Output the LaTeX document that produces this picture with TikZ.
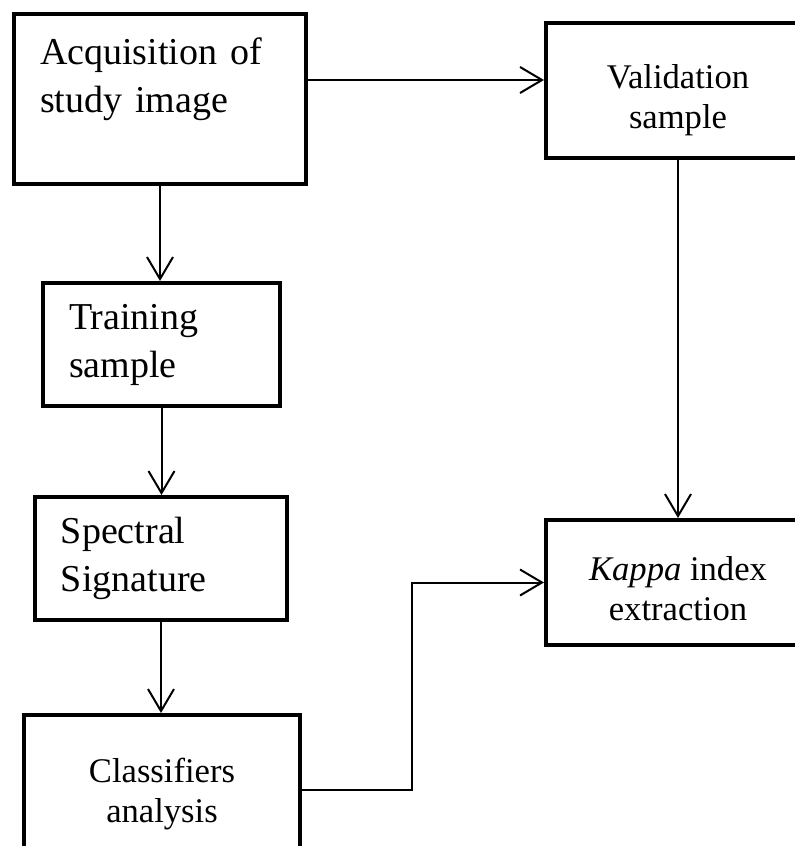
\documentclass[tikz,border=0pt]{standalone}
\usepackage{fontspec}
\setmainfont{Liberation Serif}
\usetikzlibrary{arrows.meta,positioning}

\tikzset{
  stepbox/.style={draw, line width=2pt, rectangle, anchor=north west},
  leftbox/.style={stepbox, align=left, inner xsep=13pt, font=\fontsize{19}{24}\selectfont},
  midbox/.style={stepbox, align=center, text height=42pt, text depth=4pt, font=\fontsize{17.3}{20}\selectfont},
  flow/.style={line width=1pt, -{Straight Barb[length=11pt,width=13pt,line width=1pt]}}
}

\begin{document}
\begin{tikzpicture}[x=0.5pt,y=-0.5pt]
  \useasboundingbox (0,0) rectangle (795,846);
  \clip (0,0) rectangle (795,846);
  \node[leftbox, minimum width=146pt, text width=120pt, inner ysep=12pt, text height=13pt, text depth=48pt]
    (acq) at (12,12) {Acquisition of\\study image};
  \node[leftbox, minimum width=118.5pt, text width=92.5pt, minimum height=61.5pt]
    (train) at (41,281) {Training\\sample};
  \node[leftbox, minimum width=126pt, text width=100pt, minimum height=61.5pt]
    (spec) at (33,495) {Spectral\\Signature};
  \node[midbox, minimum width=138pt, minimum height=69.5pt]
    (cls) at (22,713) {Classifiers\\analysis};
  \node[midbox, minimum width=132pt, minimum height=67.5pt]
    (val) at (544,21) {Validation\\sample};
  \node[midbox, minimum width=132pt, minimum height=62.5pt]
    (kappa) at (544,518) {\textit{Kappa} index\\extraction};
  \coordinate (bend) at (412,0);
  \draw[flow] (acq.south) -- (acq.south |- train.north);
  \draw[flow] (train.south) -- (train.south |- spec.north);
  \draw[flow] (spec.south) -- (spec.south |- cls.north);
  \draw[flow] (acq.east |- 0,80) -- (val.west |- 0,80);
  \draw[flow] (val.south) -- (val.south |- kappa.north);
  \draw[flow] (cls.east |- 0,790) -- (bend |- 0,790) |- (kappa.west);
\end{tikzpicture}
\end{document}
